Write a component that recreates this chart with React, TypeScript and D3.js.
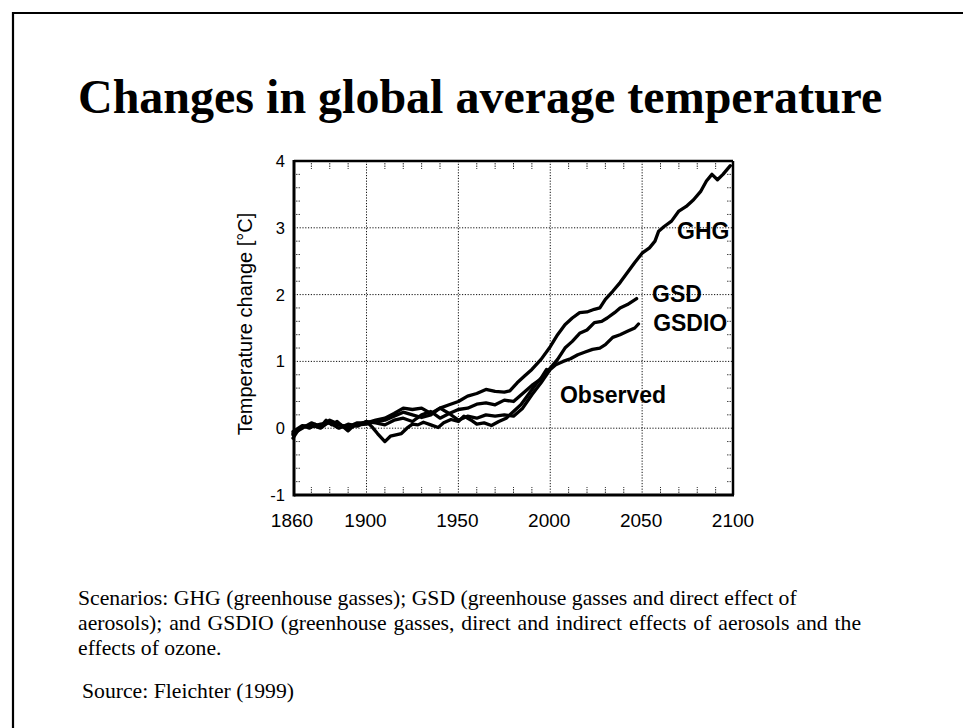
import React from "react";
import * as d3 from "d3";

const xTicks = [1860, 1900, 1950, 2000, 2050, 2100];
const yTicks = [-1, 0, 1, 2, 3, 4];
const xGrid = [1900, 1950, 2000, 2050];
const yGrid = [0, 1, 2, 3];

const ghgYears = [1860,1865,1870,1875,1880,1885,1890,1895,1900,1905,1910,1915,1920,1925,1930,1935,1940,1945,1950,1955,1960,1965,1970,1975,1978,1982,1986,1990,1995,2000,2004,2008,2012,2016,2020,2024,2027,2030,2034,2038,2042,2046,2050,2054,2057,2059,2062,2066,2070,2074,2078,2082,2085,2088,2091,2094,2098];
const ghgVals = [-0.1,0.02,0.05,0.0,0.1,0.05,0.02,0.08,0.08,0.12,0.15,0.22,0.3,0.28,0.3,0.22,0.3,0.35,0.4,0.48,0.52,0.58,0.55,0.54,0.56,0.68,0.78,0.88,1.03,1.22,1.4,1.55,1.65,1.73,1.74,1.78,1.8,1.93,2.05,2.18,2.33,2.48,2.62,2.7,2.8,2.95,3.02,3.1,3.25,3.32,3.42,3.55,3.7,3.8,3.72,3.8,3.93];

const gsdYears = [1860,1865,1870,1875,1880,1885,1890,1895,1900,1905,1910,1915,1920,1925,1930,1935,1940,1945,1950,1955,1960,1965,1970,1975,1980,1985,1990,1995,2000,2004,2008,2012,2016,2020,2024,2028,2031,2035,2038,2042,2047];
const gsdVals = [-0.08,0.0,0.08,0.02,0.12,0.06,0.0,0.05,0.06,0.1,0.12,0.18,0.24,0.2,0.16,0.2,0.3,0.22,0.28,0.3,0.36,0.38,0.35,0.42,0.4,0.52,0.64,0.74,0.9,1.03,1.2,1.3,1.42,1.47,1.58,1.6,1.65,1.73,1.8,1.85,1.94];

const gsdioYears = [1860,1865,1870,1875,1880,1885,1890,1895,1900,1905,1910,1915,1920,1925,1930,1935,1940,1945,1950,1955,1960,1965,1970,1975,1980,1985,1990,1995,2000,2003,2007,2011,2015,2019,2023,2027,2030,2034,2038,2042,2046,2048];
const gsdioVals = [-0.05,0.04,0.02,0.06,0.08,0.0,0.06,0.03,0.1,0.08,0.05,0.12,0.15,0.1,0.2,0.25,0.15,0.22,0.12,0.18,0.15,0.2,0.18,0.2,0.18,0.3,0.5,0.68,0.88,0.95,1.0,1.04,1.1,1.14,1.18,1.2,1.25,1.36,1.4,1.45,1.5,1.56];

const obsYears = [1860,1863,1866,1869,1872,1875,1878,1881,1884,1887,1890,1893,1896,1900,1903,1906,1910,1913,1916,1919,1922,1925,1928,1931,1935,1939,1942,1946,1950,1953,1957,1960,1964,1968,1972,1976,1980,1984,1988,1992,1995,1998];
const obsVals = [-0.15,-0.02,0.03,0.0,0.06,0.02,0.12,0.05,0.1,0.03,-0.04,0.04,0.06,0.1,0.02,-0.08,-0.2,-0.12,-0.1,-0.08,0.0,0.06,0.05,0.09,0.05,0.01,0.08,0.13,0.1,0.18,0.12,0.06,0.08,0.04,0.1,0.15,0.25,0.35,0.5,0.65,0.75,0.88];

const seriesLabels = ["GHG", "GSD", "GSDIO", "Observed"];
const labelYears = [2069, 2055.4, 2056, 2005.3];
const labelVals = [2.83, 1.89, 1.455, 0.377];
const captionLines = [
  "Scenarios: GHG (greenhouse gasses); GSD (greenhouse gasses and direct effect of",
  "aerosols); and GSDIO (greenhouse gasses, direct and indirect effects of aerosols and the",
  "effects of ozone.",
];
const sourceText = "Source: Fleichter (1999)";
const titleText = "Changes in global average temperature";
const yTitle = "Temperature change [°C]";

export default function App() {
  const W = 963, H = 728;
  const x = d3.scaleLinear().domain([1860, 2100]).range([293, 734]);
  const y = d3.scaleLinear().domain([-1, 4]).range([495, 161]);
  const line = d3.line<[number, number]>().x(d => x(d[0])).y(d => y(d[1])).curve(d3.curveLinear);
  const series = [
    { yrs: ghgYears, vals: ghgVals },
    { yrs: gsdYears, vals: gsdVals },
    { yrs: gsdioYears, vals: gsdioVals },
    { yrs: obsYears, vals: obsVals },
  ];
  const minorX = d3.range(1870, 2100, 10).filter(v => !xGrid.includes(v));
  const minorY = d3.range(-0.8, 4, 0.2).filter(v => Math.abs(v - Math.round(v)) > 0.05);
  const x0 = x(1860) + 1, x1 = x(2100) - 1, yt = y(4), yb = y(-1);
  const sans = "'Liberation Sans', Arial, sans-serif";
  const serif = "'Liberation Serif', 'Times New Roman', serif";
  return (
    <svg width={W} height={H} style={{ position: "absolute", left: 0, top: 0, background: "#fff" }}>
      <rect x={0} y={0} width={W} height={H} fill="#fff" />
      <path d={`M13,${H + 5} L13,13 L${W + 5},13`} fill="none" stroke="#000" strokeWidth={2.2} />
      <text x={78} y={113} fontFamily={serif} fontWeight="bold" fontSize={48}>{titleText}</text>

      {/* grid */}
      {xGrid.map(g => (
        <line key={"gx" + g} x1={x(g)} x2={x(g)} y1={yt} y2={yb} stroke="#111" strokeWidth={1} strokeDasharray="1.2,1.6" />
      ))}
      {yGrid.map(g => (
        <line key={"gy" + g} x1={x0} x2={x1} y1={y(g)} y2={y(g)} stroke="#111" strokeWidth={1} strokeDasharray="1.2,1.6" />
      ))}
      {/* minor ticks */}
      {minorX.map(v => (
        <g key={"mx" + v}>
          <line x1={x(v)} x2={x(v)} y1={yt + 2} y2={yt + 8} stroke="#333" strokeWidth={1} strokeDasharray="1.5,1" />
          <line x1={x(v)} x2={x(v)} y1={yb - 2} y2={yb - 8} stroke="#333" strokeWidth={1} strokeDasharray="1.5,1" />
        </g>
      ))}
      {minorY.map(v => (
        <g key={"my" + v}>
          <line x1={x0 + 2} x2={x0 + 7} y1={y(v)} y2={y(v)} stroke="#444" strokeWidth={1} strokeDasharray="1.5,1" />
          <line x1={x1 - 2} x2={x1 - 7} y1={y(v)} y2={y(v)} stroke="#444" strokeWidth={1} strokeDasharray="1.5,1" />
        </g>
      ))}
      {/* frame */}
      <line x1={x0} x2={x1} y1={yt} y2={yt} stroke="#000" strokeWidth={2.5} />
      <line x1={x1} x2={x1} y1={yt} y2={yb} stroke="#000" strokeWidth={2.5} />
      <line x1={x0} x2={x0} y1={yt - 1} y2={yb + 1.5} stroke="#000" strokeWidth={3} />
      <line x1={x0} x2={x1 + 1} y1={yb} y2={yb} stroke="#000" strokeWidth={3} />

      {/* series */}
      {series.map((s, i) => (
        <path key={"s" + i} d={line(s.yrs.map((yr, j) => [yr, s.vals[j]] as [number, number])) || ""} fill="none" stroke="#000" strokeWidth={3.3} strokeLinejoin="round" strokeLinecap="round" />
      ))}

      {/* tick labels */}
      {xTicks.map(t => (
        <text key={"xt" + t} x={x(t) - 1} y={527} textAnchor="middle" fontFamily={sans} fontSize={19}>{t}</text>
      ))}
      {yTicks.map(t => (
        <text key={"yt" + t} x={285} y={y(t) + 6} textAnchor="end" fontFamily={sans} fontSize={16.5}>{t}</text>
      ))}
      <text transform={`translate(252,324) rotate(-90)`} textAnchor="middle" fontFamily={sans} fontSize={20}>{yTitle}</text>

      {/* series labels */}
      {seriesLabels.map((l, i) => (
        <text key={l} x={x(labelYears[i])} y={y(labelVals[i])} fontFamily={sans} fontWeight="bold" fontSize={23} fill="#000">{l}</text>
      ))}

      {/* caption */}
      {captionLines.map((c, i) => (
        <text key={"c" + i} x={78} y={605 + i * 25} fontFamily={serif} fontSize={21.7} wordSpacing={i === 1 ? 1.5 : 0}>{c}</text>
      ))}
      <text x={82} y={698} fontFamily={serif} fontSize={21.7}>{sourceText}</text>
    </svg>
  );
}
